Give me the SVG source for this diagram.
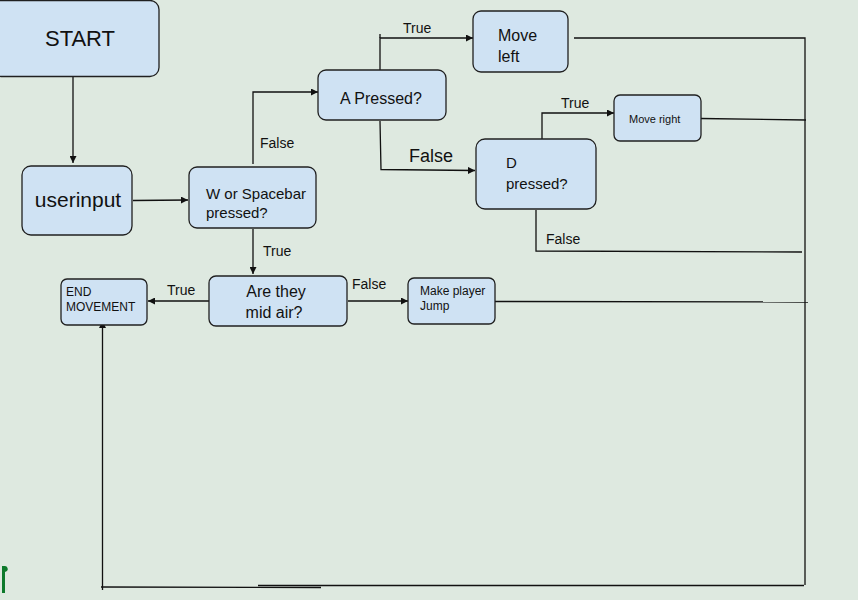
<svg xmlns="http://www.w3.org/2000/svg" width="858" height="600" viewBox="0 0 858 600">
<style>
.node rect{fill:#cfe2f3;stroke:#202020;stroke-width:1.3}
text{font-family:"Liberation Sans",Arial,sans-serif;fill:#111}
.c path,.c line{fill:none;stroke:#111;stroke-width:1.3}
</style>
<defs>
<marker id="ah" viewBox="0 0 10 10" refX="10" refY="5" markerWidth="7" markerHeight="7" orient="auto" markerUnits="userSpaceOnUse">
<path d="M0,0 L10,5 L0,10 z" fill="#111"/>
</marker>
</defs>
<rect width="858" height="600" fill="#dee9e0"/>
<g class="c" id="connectors">
<line x1="73" y1="76" x2="73" y2="163" marker-end="url(#ah)"/>
<line x1="133" y1="200.5" x2="188" y2="200" marker-end="url(#ah)"/>
<path d="M253,164 V92 H318" marker-end="url(#ah)"/>
<path d="M380,70 V38 H473" marker-end="url(#ah)"/>
<line x1="380" y1="34" x2="380" y2="38"/>
<path d="M380,121 L381,169.5 L475,170.5" marker-end="url(#ah)"/>
<path d="M542,141 V113 H614" marker-end="url(#ah)"/>
<path d="M574,38 H805 V585"/>
<line x1="701" y1="118.5" x2="806" y2="120"/>
<path d="M536,210 V251 L802,252"/>
<line x1="495" y1="301.5" x2="808" y2="302"/>
<line x1="253" y1="229" x2="253" y2="274" marker-end="url(#ah)"/>
<line x1="209" y1="301" x2="148" y2="301" marker-end="url(#ah)"/>
<line x1="348" y1="301" x2="408" y2="301" marker-end="url(#ah)"/>
<line x1="804" y1="585.5" x2="258" y2="585.5"/>
<line x1="321" y1="587.5" x2="101" y2="587"/>
<line x1="102.5" y1="590" x2="102.5" y2="321" marker-end="url(#ah)"/>
</g>
<g class="node" id="start"><rect x="-8" y="0.5" width="167" height="76" rx="9"/><text x="80" y="46" font-size="22" text-anchor="middle">START</text></g>
<g class="node" id="userinput"><rect x="22" y="166" width="110" height="69" rx="9"/><text x="78" y="207" font-size="21" text-anchor="middle">userinput</text></g>
<g class="node" id="wspace"><rect x="189" y="167" width="127" height="61" rx="8"/><text x="206" y="199" font-size="15">W or Spacebar</text><text x="206" y="218" font-size="15">pressed?</text></g>
<g class="node" id="apressed"><rect x="318" y="70" width="128" height="50" rx="8"/><text x="340" y="104" font-size="16">A Pressed?</text></g>
<g class="node" id="moveleft"><rect x="473" y="11" width="95" height="61" rx="8"/><text x="498" y="41" font-size="16">Move</text><text x="498" y="62" font-size="16">left</text></g>
<g class="node" id="dpressed"><rect x="476" y="139" width="120" height="70" rx="9"/><text x="506" y="168" font-size="15">D</text><text x="506" y="189" font-size="15">pressed?</text></g>
<g class="node" id="moveright"><rect x="614" y="95" width="87" height="46" rx="6"/><text x="629" y="123" font-size="11">Move right</text></g>
<g class="node" id="midair"><rect x="209" y="276" width="138" height="50" rx="7"/><text x="276" y="297" font-size="16" text-anchor="middle">Are they</text><text x="274" y="318" font-size="16" text-anchor="middle">mid air?</text></g>
<g class="node" id="end"><rect x="61" y="279" width="86" height="46" rx="6"/><text x="66" y="296" font-size="12">END</text><text x="66" y="311" font-size="12">MOVEMENT</text></g>
<g class="node" id="jump"><rect x="408" y="278" width="87" height="46" rx="6"/><text x="420" y="295" font-size="12">Make player</text><text x="420" y="310" font-size="12">Jump</text></g>
<g id="labels" font-size="14">
<text x="260" y="148" font-size="14">False</text>
<text x="403" y="33" font-size="14">True</text>
<text x="409" y="162" font-size="18">False</text>
<text x="561" y="108" font-size="14">True</text>
<text x="546" y="244" font-size="14">False</text>
<text x="263" y="256" font-size="14">True</text>
<text x="167" y="295" font-size="14">True</text>
<text x="352" y="289" font-size="14">False</text>
</g>
<path d="M2,593 V566 H5 A3,3 0 0 1 7,571 L5,572 V593 z" fill="#0e7a2c"/>
</svg>
